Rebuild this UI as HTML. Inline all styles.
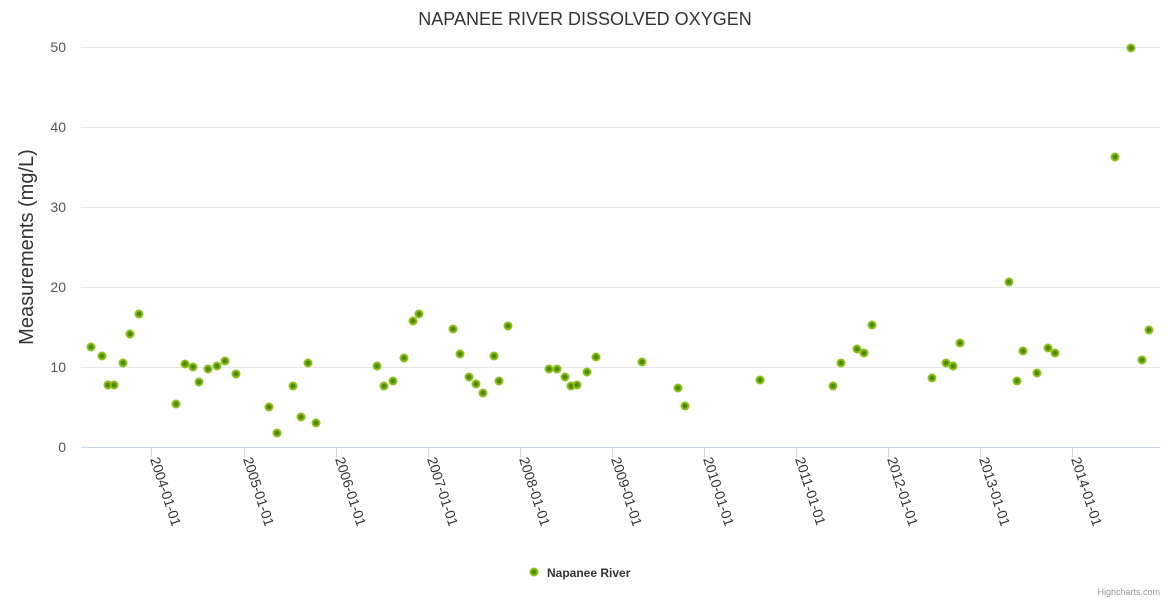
<!DOCTYPE html>
<html><head><meta charset="utf-8"><style>body{margin:0;background:#fff}svg{display:block;font-family:"Liberation Sans",sans-serif}</style></head><body>
<svg width="1170" height="600" xmlns="http://www.w3.org/2000/svg">
<text x="585" y="25" text-anchor="middle" font-size="18" fill="#333">NAPANEE RIVER DISSOLVED OXYGEN</text>
<g stroke="#e6e6e6" stroke-width="1">
<line x1="81" x2="1160" y1="47.5" y2="47.5"/><line x1="81" x2="1160" y1="127.5" y2="127.5"/><line x1="81" x2="1160" y1="207.5" y2="207.5"/><line x1="81" x2="1160" y1="287.5" y2="287.5"/><line x1="81" x2="1160" y1="367.5" y2="367.5"/>
</g>
<line x1="81" x2="1160" y1="447.5" y2="447.5" stroke="#ccd6eb"/>
<g font-size="14" fill="#555" text-anchor="end">
<text x="66" y="52">50</text><text x="66" y="132">40</text><text x="66" y="212">30</text><text x="66" y="292">20</text><text x="66" y="372">10</text><text x="66" y="452">0</text>
</g>
<text transform="translate(33,247) rotate(-90)" text-anchor="middle" font-size="20" fill="#333">Measurements (mg/L)</text>
<g stroke="#ccd6eb">
<line x1="151.5" x2="151.5" y1="447" y2="457"/><line x1="244.5" x2="244.5" y1="447" y2="457"/><line x1="336.5" x2="336.5" y1="447" y2="457"/><line x1="428.5" x2="428.5" y1="447" y2="457"/><line x1="520.5" x2="520.5" y1="447" y2="457"/><line x1="612.5" x2="612.5" y1="447" y2="457"/><line x1="704.5" x2="704.5" y1="447" y2="457"/><line x1="796.5" x2="796.5" y1="447" y2="457"/><line x1="888.5" x2="888.5" y1="447" y2="457"/><line x1="980.5" x2="980.5" y1="447" y2="457"/><line x1="1072.5" x2="1072.5" y1="447" y2="457"/>
</g>
<g font-size="14" fill="#333">
<text transform="translate(150,459) rotate(72)">2004-01-01</text>
<text transform="translate(243,459) rotate(72)">2005-01-01</text>
<text transform="translate(335,459) rotate(72)">2006-01-01</text>
<text transform="translate(427,459) rotate(72)">2007-01-01</text>
<text transform="translate(519,459) rotate(72)">2008-01-01</text>
<text transform="translate(611,459) rotate(72)">2009-01-01</text>
<text transform="translate(703,459) rotate(72)">2010-01-01</text>
<text transform="translate(795,459) rotate(72)">2011-01-01</text>
<text transform="translate(887,459) rotate(72)">2012-01-01</text>
<text transform="translate(979,459) rotate(72)">2013-01-01</text>
<text transform="translate(1071,459) rotate(72)">2014-01-01</text>
</g>
<g fill="#4d8c00" stroke="#8cbf1a" stroke-width="2">
<circle cx="91" cy="347" r="3.5"/><circle cx="102" cy="356" r="3.5"/><circle cx="108" cy="385" r="3.5"/><circle cx="114" cy="385" r="3.5"/><circle cx="123" cy="363" r="3.5"/><circle cx="130" cy="334" r="3.5"/><circle cx="139" cy="314" r="3.5"/><circle cx="176" cy="404" r="3.5"/><circle cx="185" cy="364" r="3.5"/><circle cx="193" cy="367" r="3.5"/><circle cx="199" cy="382" r="3.5"/><circle cx="208" cy="369" r="3.5"/><circle cx="217" cy="366" r="3.5"/><circle cx="225" cy="361" r="3.5"/><circle cx="236" cy="374" r="3.5"/><circle cx="269" cy="407" r="3.5"/><circle cx="277" cy="433" r="3.5"/><circle cx="293" cy="386" r="3.5"/><circle cx="301" cy="417" r="3.5"/><circle cx="308" cy="363" r="3.5"/><circle cx="316" cy="423" r="3.5"/><circle cx="377" cy="366" r="3.5"/><circle cx="384" cy="386" r="3.5"/><circle cx="393" cy="381" r="3.5"/><circle cx="404" cy="358" r="3.5"/><circle cx="413" cy="321" r="3.5"/><circle cx="419" cy="314" r="3.5"/><circle cx="453" cy="329" r="3.5"/><circle cx="460" cy="354" r="3.5"/><circle cx="469" cy="377" r="3.5"/><circle cx="476" cy="384" r="3.5"/><circle cx="483" cy="393" r="3.5"/><circle cx="494" cy="356" r="3.5"/><circle cx="499" cy="381" r="3.5"/><circle cx="508" cy="326" r="3.5"/><circle cx="549" cy="369" r="3.5"/><circle cx="557" cy="369" r="3.5"/><circle cx="565" cy="377" r="3.5"/><circle cx="571" cy="386" r="3.5"/><circle cx="577" cy="385" r="3.5"/><circle cx="587" cy="372" r="3.5"/><circle cx="596" cy="357" r="3.5"/><circle cx="642" cy="362" r="3.5"/><circle cx="678" cy="388" r="3.5"/><circle cx="685" cy="406" r="3.5"/><circle cx="760" cy="380" r="3.5"/><circle cx="833" cy="386" r="3.5"/><circle cx="841" cy="363" r="3.5"/><circle cx="857" cy="349" r="3.5"/><circle cx="864" cy="353" r="3.5"/><circle cx="872" cy="325" r="3.5"/><circle cx="932" cy="378" r="3.5"/><circle cx="946" cy="363" r="3.5"/><circle cx="953" cy="366" r="3.5"/><circle cx="960" cy="343" r="3.5"/><circle cx="1009" cy="282" r="3.5"/><circle cx="1017" cy="381" r="3.5"/><circle cx="1023" cy="351" r="3.5"/><circle cx="1037" cy="373" r="3.5"/><circle cx="1048" cy="348" r="3.5"/><circle cx="1055" cy="353" r="3.5"/><circle cx="1115" cy="157" r="3.5"/><circle cx="1131" cy="48" r="3.5"/><circle cx="1142" cy="360" r="3.5"/><circle cx="1149" cy="330" r="3.5"/>
<circle cx="534" cy="572" r="3.5"/>
</g>
<text x="547" y="577" font-size="12" font-weight="bold" fill="#333">Napanee River</text>
<text x="1160" y="595" text-anchor="end" font-size="9" fill="#999">Highcharts.com</text>
</svg>
</body></html>
